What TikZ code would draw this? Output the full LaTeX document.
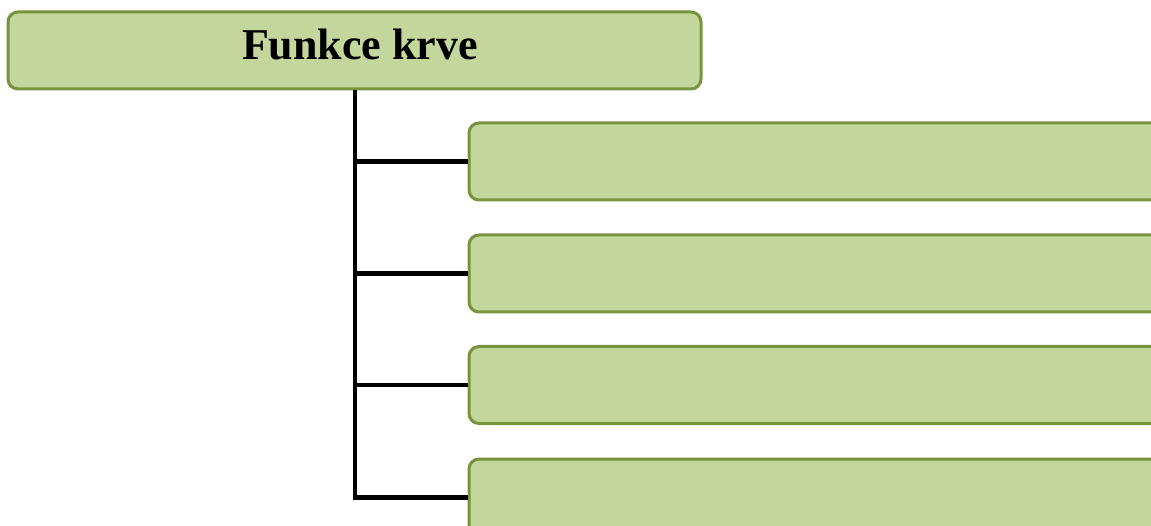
\documentclass[tikz,border=0pt]{standalone}
\usepackage{fontspec}
\setmainfont{Liberation Serif}
\definecolor{boxfill}{HTML}{C3D69B}
\definecolor{boxline}{HTML}{77933C}
\begin{document}
\begin{tikzpicture}[x=1pt,y=-1pt,
  box/.style={draw=boxline, fill=boxfill, line width=3pt, rounded corners=10pt,
    minimum height=77pt, inner sep=0pt},
  conn/.style={line width=4.5pt, draw=black, line join=miter}]
\useasboundingbox (0,0) rectangle (1151,526);
\clip (0,0) rectangle (1151,526);
\node[box, minimum width=693pt] (top) at (354.5,50.5) {};
\node[font=\bfseries\fontsize{44}{50}\selectfont, anchor=base, inner sep=0pt] (title) at (360,60) {Funkce krve};
\node[box, minimum width=720pt] (c1) at (829,161.5) {};
\node[box, minimum width=720pt] (c2) at (829,273.5) {};
\node[box, minimum width=720pt] (c3) at (829,385) {};
\node[box, minimum width=720pt] (c4) at (829,497.5) {};
\coordinate (tx) at (355,0);
\draw[conn] (top.south -| tx) -- (tx |- c4.west) -- (c4.west);
\draw[conn] (tx |- c1.west) -- (c1.west);
\draw[conn] (tx |- c2.west) -- (c2.west);
\draw[conn] (tx |- c3.west) -- (c3.west);
\end{tikzpicture}
\end{document}
